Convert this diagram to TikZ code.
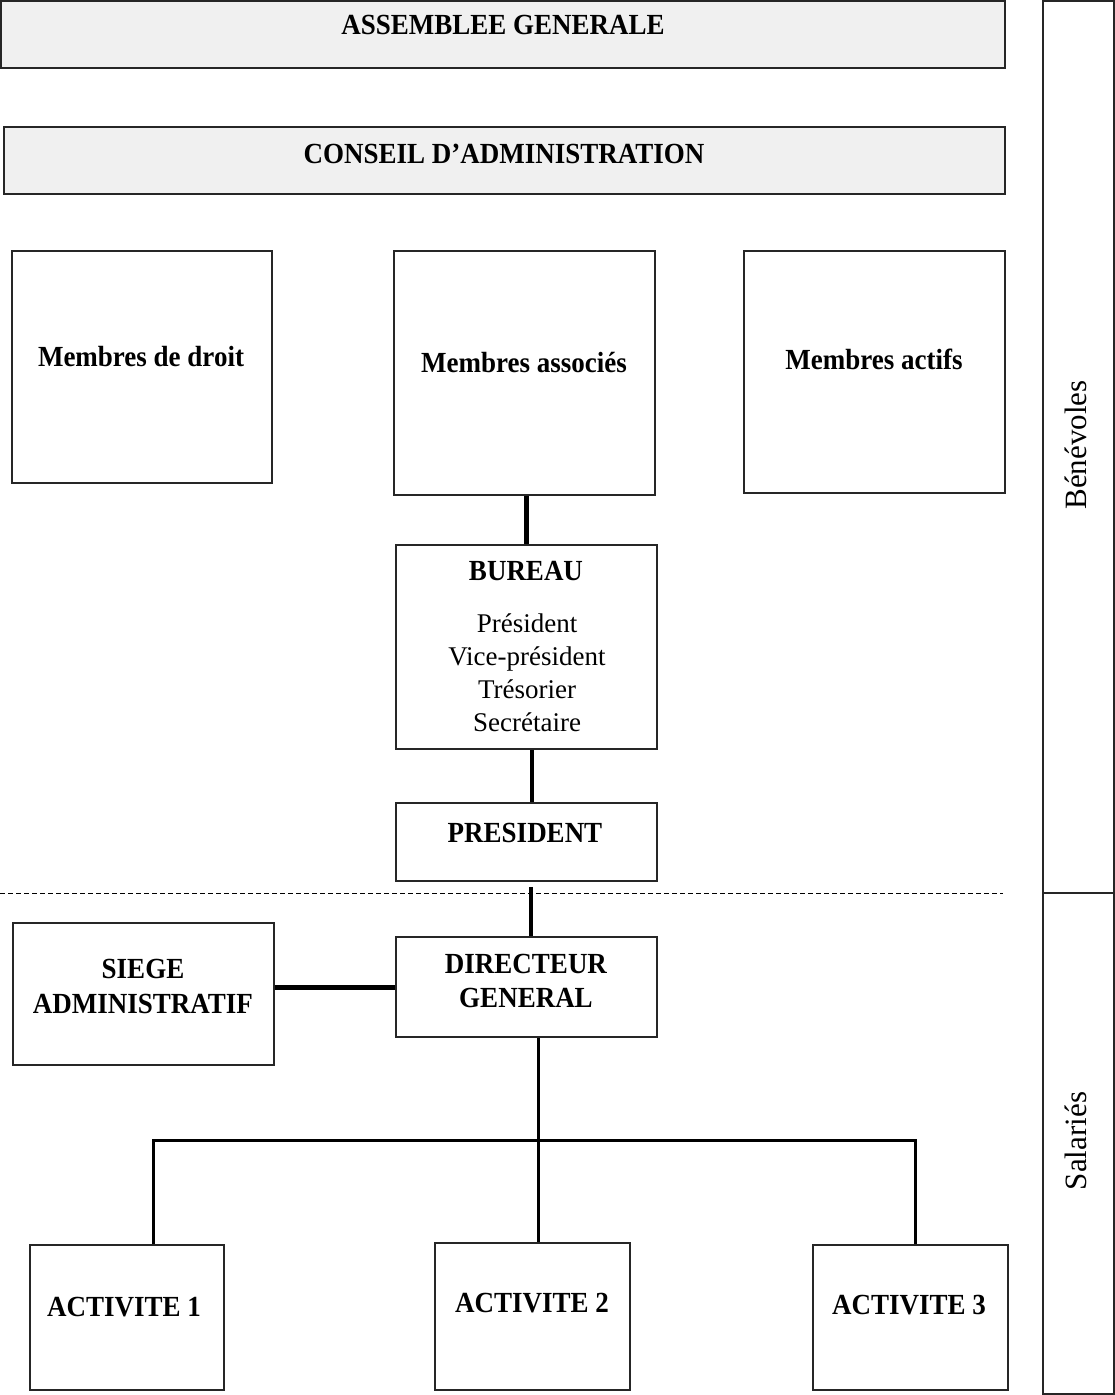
\documentclass[tikz,border=0pt]{standalone}
\usepackage{fontspec}
\setmainfont{Liberation Serif}
\usetikzlibrary{calc}
\begin{document}
\begin{tikzpicture}[x=1pt,y=-1pt,
  box/.style={draw=black!85,line width=1.5pt,rectangle,inner sep=0pt},
  graybox/.style={box,fill=black!6},
  lbl/.style={font=\fontsize{27}{33}\selectfont\bfseries,anchor=base,inner sep=0pt,yscale=1.08},
  txt/.style={font=\fontsize{27}{33}\selectfont,anchor=base,inner sep=0pt},
  side/.style={font=\fontsize{31}{36}\selectfont,rotate=90,inner sep=0pt},
  conn/.style={line width=4.5pt},
  tree/.style={line width=3pt}]
\useasboundingbox (0,0) rectangle (1115,1395);
% boxes
\node[graybox,minimum width=1004pt,minimum height=67pt] (ag) at (503,34.5) {};
\node[graybox,minimum width=1001pt,minimum height=67pt] (ca) at (504.5,160.5) {};
\node[box,minimum width=260pt,minimum height=232pt] (md) at (142,367) {};
\node[box,minimum width=261pt,minimum height=244pt] (ma) at (524.5,373) {};
\node[box,minimum width=261pt,minimum height=242pt] (mac) at (874.5,372) {};
\node[box,minimum width=261pt,minimum height=204pt] (bureau) at (526.5,647) {};
\node[box,minimum width=261pt,minimum height=78pt] (pres) at (526.5,842) {};
\node[box,minimum width=261pt,minimum height=100pt] (dg) at (526.5,987) {};
\node[box,minimum width=261pt,minimum height=142pt] (siege) at (143.5,994) {};
\node[box,minimum width=194pt,minimum height=145pt] (a1) at (127,1317.5) {};
\node[box,minimum width=195pt,minimum height=147pt] (a2) at (532.5,1316.5) {};
\node[box,minimum width=195pt,minimum height=145pt] (a3) at (910.5,1317.5) {};
\node[box,minimum width=71pt,minimum height=1393pt] (sidebox) at (1078.5,697.5) {};
\coordinate (sl) at (1043,893);
\coordinate (sr) at (1114,893);
\draw[line width=1.5pt,black!85] (sl) -- (sr);
% texts
\node[lbl] (tag) at (503,34) {ASSEMBLEE GENERALE};
\node[lbl] (tca) at (504,163) {CONSEIL D’ADMINISTRATION};
\node[lbl] (tmd) at (141,366) {Membres de droit};
\node[lbl] (tma) at (524,372) {Membres associés};
\node[lbl] (tmac) at (874,369) {Membres actifs};
\node[lbl] (tbu) at (526,580) {BUREAU};
\node[txt] (tb1) at (527,632) {Président};
\node[txt] (tb2) at (527,665) {Vice-président};
\node[txt] (tb3) at (527,698) {Trésorier};
\node[txt] (tb4) at (527,731) {Secrétaire};
\node[lbl] (tpr) at (525,842) {PRESIDENT};
\node[lbl] (tdg1) at (526,973) {DIRECTEUR};
\node[lbl] (tdg2) at (526,1007) {GENERAL};
\node[lbl] (ts1) at (143,978) {SIEGE};
\node[lbl] (ts2) at (143,1013) {ADMINISTRATIF};
\node[lbl] (ta1) at (124,1316) {ACTIVITE 1};
\node[lbl] (ta2) at (532,1312) {ACTIVITE 2};
\node[lbl] (ta3) at (909,1314) {ACTIVITE 3};
\node[side] (tben) at (1076,445) {Bénévoles};
\node[side] (tsal) at (1076,1141) {Salariés};
% dashed separator
\coordinate (dl) at (0,893);
\coordinate (dr) at (1003,893);
\draw[line width=1pt,dash pattern=on 5pt off 3pt] (dl) -- (dr);
% connectors
\draw[conn] (bureau.north |- ma.south) -- (bureau.north);
\draw[conn] ($(bureau.south)+(5.5,0)$) -- ($(pres.north)+(5.5,0)$);
\draw[conn] ($(pres.south)+(4.5,5)$) -- ($(dg.north)+(4.5,0)$);
\draw[line width=5pt] (siege.east |- 0,987) -- (dg.west |- 0,987);
\coordinate (j) at (538,1140);
\draw[tree] ($(dg.south)+(11.5,0)$) -- (j);
\draw[tree] ($(a1.north)+(26,0)$) |- (j) -| ($(a3.north)+(4.5,0)$);
\draw[tree] (j) -- (j |- a2.north);
\end{tikzpicture}
\end{document}
